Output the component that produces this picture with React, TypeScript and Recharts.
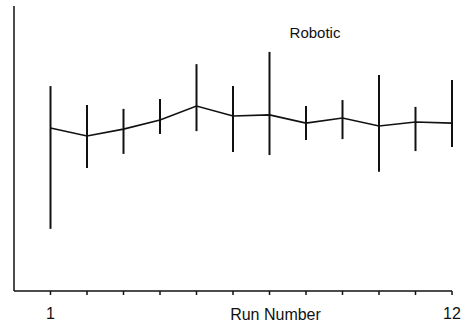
import React from 'react';
import { LineChart, Line, XAxis, YAxis, ErrorBar, Customized } from 'recharts';

// run numbers 1..12, mean and the ends of each error bar (arbitrary units, no y scale shown)
const runs = [1, 2, 3, 4, 5, 6, 7, 8, 9, 10, 11, 12];
const means = [57.2, 54.4, 56.8, 60.0, 64.9, 61.4, 61.8, 58.9, 60.7, 57.9, 59.3, 58.9];
const lows = [21.8, 43.2, 48.1, 55.1, 56.1, 48.8, 47.7, 53.0, 53.3, 41.8, 49.1, 50.5];
const highs = [71.9, 65.3, 63.9, 67.4, 79.6, 71.9, 83.9, 64.9, 67.0, 75.8, 64.6, 74.0];
const labelledTicks = [1, 12];

const data = runs.map((run, i) => ({
    run,
    mean: means[i],
    err: [means[i] - lows[i], highs[i] - means[i]],
}));

const FONT = '"Liberation Sans", Arial, Helvetica, sans-serif';

const Title = () => (
    <text x={315} y={38} textAnchor="middle" fontFamily={FONT} fontSize={15} fill="#111">
        Robotic
    </text>
);

export default function App() {
    return (
        <div style={{ position: 'absolute', left: 0, top: 0, width: 467, height: 326, background: '#fff' }}>
            <LineChart width={467} height={326} data={data} margin={{ top: 6, right: 15, bottom: 0, left: 12 }}>
                <XAxis
                    dataKey="run"
                    type="number"
                    domain={[0, 12]}
                    ticks={runs}
                    height={35}
                    stroke="#111"
                    strokeWidth={1.5}
                    tickSize={4}
                    tickMargin={13}
                    tick={{ fill: '#111', fontSize: 16, fontFamily: FONT }}
                    tickFormatter={(v: number) => (labelledTicks.includes(v) ? String(v) : '')}
                    label={(props: any) => {
                        const vb = props.viewBox;
                        return (
                            <text x={vb.x + (vb.width * 7) / 12 + 6} y={320} textAnchor="middle" fontFamily={FONT} fontSize={16} fill="#111">
                                Run Number
                            </text>
                        );
                    }}
                />
                <YAxis width={2} domain={[0, 100]} tick={false} tickLine={false} stroke="#111" strokeWidth={1.5} />
                <Line type="linear" dataKey="mean" stroke="#111" strokeWidth={1.6} dot={false} isAnimationActive={false}>
                    <ErrorBar dataKey="err" direction="y" width={0} stroke="#111" strokeWidth={2} isAnimationActive={false} />
                </Line>
                <Customized component={Title} />
            </LineChart>
        </div>
    );
}
